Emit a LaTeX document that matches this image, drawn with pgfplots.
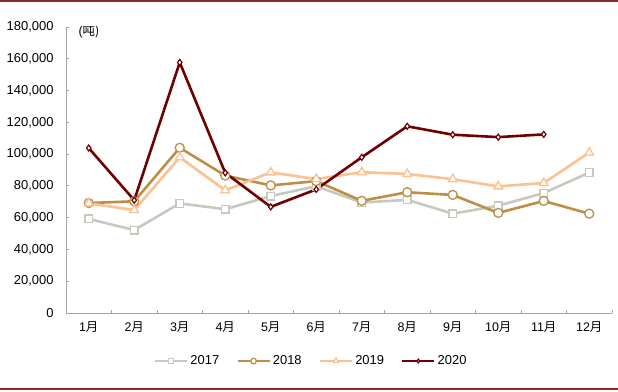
\documentclass[border=0pt]{standalone}
\usepackage{pgfplots}
\pgfplotsset{compat=1.18}
\usepackage{fontspec}
\setmainfont{Liberation Sans}
\newfontfamily\cjk{Noto Sans CJK SC}
\definecolor{cA}{RGB}{200,200,190}
\definecolor{cB}{RGB}{190,142,72}
\definecolor{cC}{RGB}{252,192,145}
\definecolor{cD}{RGB}{110,0,0}
\definecolor{border}{RGB}{140,40,40}
\definecolor{axgray}{RGB}{165,165,165}
\begin{document}
\begin{tikzpicture}
\path[use as bounding box] (0,0) rectangle (618bp,392bp);
\draw[border, line width=1.5bp] (0,390.8bp) -- (618bp,390.8bp);
\draw[border, line width=1.5bp] (0,3bp) -- (618bp,3bp);
\begin{axis}[
  at={(66bp,79bp)}, anchor=south west,
  scale only axis, width=546bp, height=286bp,
  xmin=0, xmax=12, ymin=0, ymax=180000,
  axis x line*=bottom, axis y line*=left,
  axis line style={axgray, line width=1bp, -},
  xtick={0,...,12},
  x tick label as interval,
  xticklabels={1\cjk{月},2\cjk{月},3\cjk{月},4\cjk{月},5\cjk{月},6\cjk{月},7\cjk{月},8\cjk{月},9\cjk{月},10\cjk{月},11\cjk{月},12\cjk{月}},
  ytick={0,20000,...,180000},
  scaled y ticks=false,
  /pgf/number format/fixed,
  /pgf/number format/precision=0,
  /pgf/number format/1000 sep={,},
  /pgf/number format/assume math mode=true,
  tick align=inside,
  major tick length=3bp,
  tick style={axgray, line width=0.8bp},
  minor tick num=0,
  ticklabel style={font=\fontsize{13}{15}\selectfont},
  yticklabel style={xshift=-9bp},
  xticklabel style={yshift=-5bp, font=\fontsize{12.5}{15}\selectfont},
  legend columns=4,
  legend style={at={(0.449,-0.168)}, anchor=center, draw=none, fill=none,
    font=\fontsize{13}{15}\selectfont,
    /tikz/every even column/.append style={column sep=15bp}},
  legend image code/.code={\draw[mark repeat=2,mark phase=2, every mark/.append style={scale=0.62}] plot coordinates {(0bp,0bp) (16bp,0bp) (32bp,0bp)};},
  every axis plot/.append style={line width=2.6bp},
]
\addplot[cA, mark=square*, mark size=3.8bp, mark options={fill=white, line width=1.3bp}] coordinates {
(0.5,59200) (1.5,52200) (2.5,69000) (3.5,65300) (4.5,73600) (5.5,79800) (6.5,69500) (7.5,71200) (8.5,62500) (9.5,67500) (10.5,75500) (11.5,88400)};
\addlegendentry{2017}
\addplot[cB, mark=*, mark size=4.5bp, mark options={fill=white, line width=1.3bp}] coordinates {
(0.5,69200) (1.5,70300) (2.5,104000) (3.5,86500) (4.5,80300) (5.5,83000) (6.5,70600) (7.5,76000) (8.5,74300) (9.5,63000) (10.5,70500) (11.5,62500)};
\addlegendentry{2018}
\addplot[cC, mark=triangle*, mark size=5bp, mark options={fill=white, line width=1.3bp}] coordinates {
(0.5,69000) (1.5,64800) (2.5,98000) (3.5,77200) (4.5,88500) (5.5,84300) (6.5,88600) (7.5,87500) (8.5,84200) (9.5,79700) (10.5,81800) (11.5,101000)};
\addlegendentry{2019}
\addplot[cD, mark=diamond*, mark size=3bp, mark options={fill=white, line width=1.2bp}] coordinates {
(0.5,103800) (1.5,71000) (2.5,157700) (3.5,88200) (4.5,66800) (5.5,77800) (6.5,98000) (7.5,117500) (8.5,112200) (9.5,110700) (10.5,112400)};
\addlegendentry{2020}
\node[anchor=center, font=\fontsize{12.5}{14}\selectfont] at (rel axis cs:0.042,0.985) {(\cjk{吨})};
\end{axis}
\end{tikzpicture}
\end{document}
